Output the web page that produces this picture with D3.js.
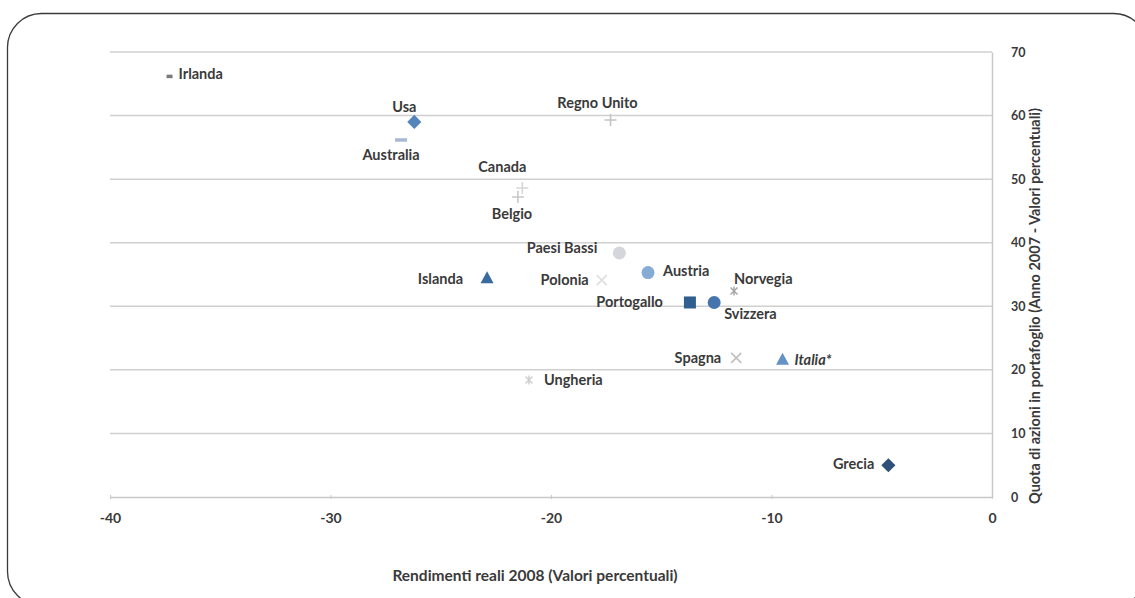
<!DOCTYPE html>
<html>
<head>
<meta charset="utf-8">
<script src="https://cdn.jsdelivr.net/npm/d3@7"></script>
<style>
  html, body { margin: 0; padding: 0; background: #ffffff; }
  svg { display: block; }
  text { font-family: Lato, "Open Sans", sans-serif; }
</style>
</head>
<body>
<svg id="chart" width="1135" height="598"></svg>
<script>
// Paesi e valori: rendimenti reali 2008 (x) e quota di azioni 2007 (y)
const countries = ["Irlanda", "Usa", "Australia", "Regno Unito", "Canada", "Belgio",
  "Paesi Bassi", "Austria", "Islanda", "Polonia", "Norvegia", "Portogallo",
  "Svizzera", "Spagna", "Italia*", "Ungheria", "Grecia"];
const returns2008 = [-37.3, -26.2, -26.8, -17.3, -21.3, -21.5,
  -16.9, -15.6, -22.9, -17.7, -11.7, -13.7,
  -12.6, -11.6, -9.5, -21.0, -4.7];
const equityShare2007 = [66.2, 59.0, 56.2, 59.3, 48.6, 47.2,
  38.4, 35.3, 34.4, 34.1, 32.4, 30.6,
  30.6, 21.9, 21.6, 18.4, 5.0];

const xTicks = [-40, -30, -20, -10, 0];
const yTicks = [0, 10, 20, 30, 40, 50, 60, 70];

// Marker symbol and colour for each country
const markerShape = ["dash", "diamond", "dash", "plus", "plus", "plus",
  "circle", "circle", "triangle", "cross", "star", "square",
  "circle", "cross", "triangle", "star", "diamond"];
const markerColor = ["#7a7a7a", "#5584bb", "#a9b8d2", "#c4c4c4", "#d6d6d6", "#c8c8c8",
  "#d4d6dc", "#86acd5", "#3a6a9e", "#e0e0e0", "#a8a8a8", "#2f5f8f",
  "#4674ad", "#c2c2c2", "#6591c6", "#cfcfcf", "#2f507a"];

// Label placement relative to its marker (text anchor, dx, dy)
const labelAnchor = ["start", "middle", "middle", "middle", "middle", "middle",
  "end", "start", "end", "end", "start", "end",
  "start", "end", "start", "start", "end"];
const labelDx = [9, -10, -10, -13, -20, -6, -22, 15, -24, -13, 0, -27, 10, -15, 12, 15, -14];
const labelDy = [3, -10, 20, -12, -16, 22, 0, 3, 6, 5, -7, 5, 17, 5, 5, 5, 4];

const svg = d3.select("#chart");

// Rounded frame around the whole figure
svg.append("rect")
  .attr("x", 7.5).attr("y", 13.5)
  .attr("width", 1140).attr("height", 592)
  .attr("rx", 34).attr("ry", 34)
  .attr("fill", "none").attr("stroke", "#3a3a3a").attr("stroke-width", 1.3);

const x = d3.scaleLinear().domain([-40, 0]).range([110, 992]);
const y = d3.scaleLinear().domain([0, 70]).range([497, 52]);

// Horizontal gridlines
svg.append("g")
  .selectAll("line")
  .data(yTicks.filter(t => t > 0))
  .join("line")
  .attr("x1", x(-40)).attr("x2", x(0))
  .attr("y1", d => y(d)).attr("y2", d => y(d))
  .attr("stroke", "#d0d0d0").attr("stroke-width", 1.5);

const tickFont = (sel, size) => sel
  .attr("fill", "#3a3a3a").attr("font-size", size).attr("font-weight", 700)
  .style("font-family", "Lato, sans-serif");

// X axis along the bottom
const xAxis = svg.append("g")
  .attr("transform", `translate(0,${y(0)})`)
  .call(d3.axisBottom(x).tickValues(xTicks).tickFormat(d => String(d))
    .tickSize(4).tickSizeOuter(0).tickPadding(12));
xAxis.select(".domain").attr("stroke", "#c8c8c8").attr("stroke-width", 1.5);
xAxis.selectAll(".tick line").attr("stroke", "#c8c8c8").attr("transform", "translate(0,-2)");
xAxis.selectAll(".tick text").call(tickFont, 14);

// Y axis on the right
const yAxis = svg.append("g")
  .attr("transform", `translate(${x(0)},0)`)
  .call(d3.axisRight(y).tickValues(yTicks).tickFormat(d => String(d))
    .tickSize(0).tickPadding(19));
yAxis.select(".domain").attr("stroke", "#c8c8c8").attr("stroke-width", 1.5);
yAxis.selectAll(".tick text").call(tickFont, 12.5);

// Axis titles
svg.append("text")
  .attr("x", 535).attr("y", 581)
  .attr("text-anchor", "middle")
  .attr("font-size", 15.5).attr("font-weight", 700).attr("fill", "#3a3a3a")
  .text("Rendimenti reali 2008 (Valori percentuali)");

svg.append("text")
  .attr("transform", "translate(1040,306) rotate(-90)")
  .attr("text-anchor", "middle")
  .attr("font-size", 14.5).attr("font-weight", 700).attr("fill", "#3a3a3a")
  .text("Quota di azioni in portafoglio  (Anno 2007 - Valori percentuali)");

// Markers
const rows = countries.map((c, i) => ({
  name: c, xv: returns2008[i], yv: equityShare2007[i],
  shape: markerShape[i], color: markerColor[i],
  anchor: labelAnchor[i], dx: labelDx[i], dy: labelDy[i]
}));

const marks = svg.append("g");
rows.forEach(r => {
  const g = marks.append("g").attr("transform", `translate(${x(r.xv)},${y(r.yv)})`);
  const c = r.color;
  switch (r.shape) {
    case "dash": {
      const w = r.name === "Irlanda" ? 6 : 12;
      g.append("rect").attr("x", -w / 2).attr("y", -1.5).attr("width", w).attr("height", 3.5).attr("fill", c);
      break;
    }
    case "diamond":
      g.append("rect").attr("x", -5).attr("y", -5).attr("width", 10).attr("height", 10)
        .attr("transform", "rotate(45)").attr("fill", c);
      break;
    case "circle":
      g.append("circle").attr("r", 6.5).attr("fill", c);
      break;
    case "square":
      g.append("rect").attr("x", -6).attr("y", -6).attr("width", 12).attr("height", 12).attr("fill", c);
      break;
    case "triangle":
      g.append("path").attr("d", "M0,-7L6.5,5L-6.5,5Z").attr("fill", c);
      break;
    case "plus":
      g.append("path").attr("d", "M-6,0H6M0,-6V6").attr("stroke", c).attr("stroke-width", 1.6);
      break;
    case "cross":
      g.append("path").attr("d", "M-5,-5L5,5M-5,5L5,-5").attr("stroke", c).attr("stroke-width", 1.8);
      break;
    case "star":
      g.append("path").attr("d", "M-3.5,-3.5L3.5,3.5M-3.5,3.5L3.5,-3.5M0,-4.5V4.5")
        .attr("stroke", c).attr("stroke-width", 1.5);
      break;
  }
});

// Country labels
const labels = svg.append("g");
rows.forEach(r => {
  const t = labels.append("text")
    .attr("x", x(r.xv) + r.dx).attr("y", y(r.yv) + r.dy)
    .attr("text-anchor", r.anchor)
    .attr("font-size", 14.5).attr("font-weight", 700).attr("fill", "#3a3a3a")
    .text(r.name);
  if (r.name === "Italia*") t.attr("font-style", "italic");
});
</script>
</body>
</html>
